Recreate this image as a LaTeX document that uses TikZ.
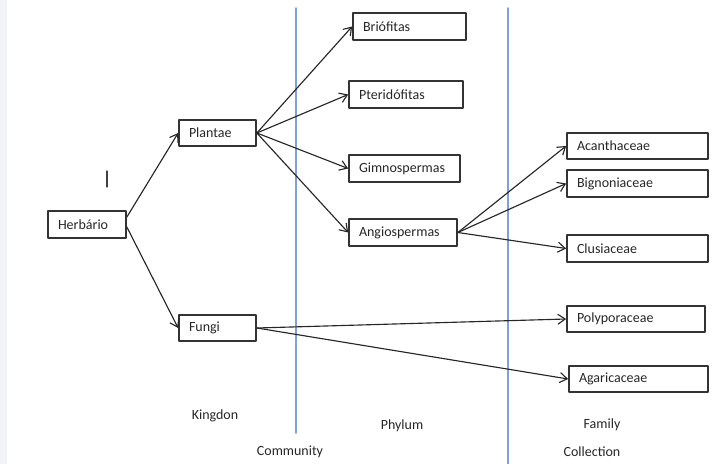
\documentclass[tikz,border=0pt]{standalone}
\usepackage{fontspec}
\setmainfont{Carlito}
\usetikzlibrary{arrows.meta}
\definecolor{divblue}{RGB}{128,160,214}
\definecolor{edgegray}{RGB}{241,243,247}

\begin{document}
\begin{tikzpicture}[x=0.75pt,y=-0.75pt,line cap=round,line join=round,
  every node/.style={font=\fontsize{10.5}{12}\selectfont,text=black!85},
  box/.style={draw=black!80,line width=1.3pt,text width=#1,align=left,
    inner xsep=7.5pt,inner ysep=0pt,minimum height=20pt},
  link/.style={-{Straight Barb[length=5.5pt,width=7.5pt]},line width=0.85pt,draw=black!85},
  divider/.style={line width=1.3pt,draw=divblue}]
  \useasboundingbox (0,0) rectangle (725,464);
  \fill[edgegray] (0,0) rectangle (7,464);
  % column dividers
  \draw[divider] (296,8) -- (296,433);
  \draw[divider] (508,8) -- (508,464);
  \draw[line width=1pt,black!75] (107,171) -- (107,187);
  % boxes
  \node[box=43.5pt] (herb) at (87,224.5) {Herbário};
  \node[box=42.75pt] (plantae) at (217.5,133) {Plantae};
  \node[box=42.75pt] (fungi) at (217.5,328) {Fungi};
  \node[box=69.75pt] (brio) at (409.5,26.5) {Briófitas};
  \node[box=70.5pt] (pteri) at (406,94.5) {Pteridófitas};
  \node[box=68.25pt] (gimno) at (404.5,168.5) {Gimnospermas};
  \node[box=66pt] (angio) at (403,232.5) {Angiospermas};
  \node[box=90.75pt] (acan) at (637.5,146) {Acanthaceae};
  \node[box=90.75pt] (bign) at (637.5,183.5) {Bignoniaceae};
  \node[box=90.75pt] (clus) at (637.5,248.5) {Clusiaceae};
  \node[box=88.5pt] (poly) at (636,319) {Polyporaceae};
  \node[box=89.25pt] (agar) at (638.5,379) {Agaricaceae};
  % arrows
  \draw[link] ([yshift=5.6pt]herb.east) -- (plantae.west);
  \draw[link] ([yshift=-1.9pt]herb.east) -- (fungi.west);
  \draw[link] (plantae.east) -- (brio.west);
  \draw[link] (plantae.east) -- (pteri.west);
  \draw[link] (plantae.east) -- (gimno.west);
  \draw[link] (plantae.east) -- (angio.west);
  \draw[link] (angio.east) -- (acan.west);
  \draw[link] (angio.east) -- (bign.west);
  \draw[link] (angio.east) -- (clus.west);
  \draw[link] (fungi.east) -- (poly.west);
  \draw[link] (fungi.east) -- (agar.west);
  % level labels
  \node (kingdon) at (215,416) {Kingdon};
  \node (community) at (290,452) {Community};
  \node (phylum) at (402,426) {Phylum};
  \node (family) at (602,425) {Family};
  \node (collection) at (592,452) {Collection};
\end{tikzpicture}
\end{document}
